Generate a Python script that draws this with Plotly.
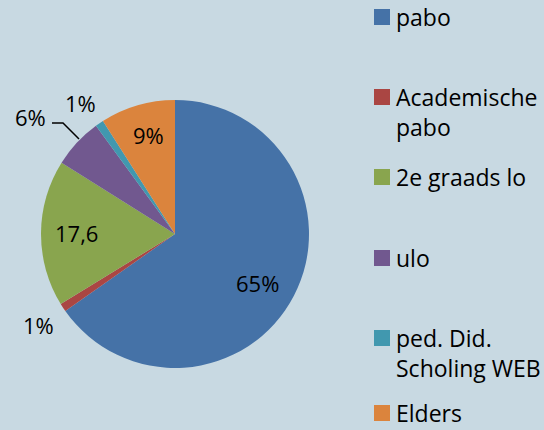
import plotly.graph_objects as go

# ---- data ----
categories = ["pabo", "Academische pabo", "2e graads lo", "ulo", "ped. Did. Scholing WEB", "Elders"]
legend_labels = ["pabo", "Academische<br>pabo", "2e graads lo", "ulo", "ped. Did.<br>Scholing WEB", "Elders"]
values = [65, 1, 17.6, 6, 1, 9]
data_labels = ["65%", "1%", "17,6", "6%", "1%", "9%"]
colors = ["#4572A7", "#AA4643", "#89A54E", "#71588F", "#4198AF", "#DB843D"]

W, H = 544, 430
BG = "#C8D9E2"
FONT = "Open Sans"
FS_LAB = 22
FS_LEG = 23

def px(x):
    return x / W

def py(y):
    return 1 - y / H

# pie geometry (pixels)
cx, cy, r = 175, 234, 134

fig = go.Figure()
fig.add_trace(go.Pie(
    labels=categories,
    values=values,
    sort=False,
    direction="clockwise",
    rotation=0,
    marker=dict(colors=colors, line=dict(width=0)),
    textinfo="none",
    domain=dict(x=[px(cx - r), px(cx + r)], y=[py(cy + r), py(cy - r)]),
    showlegend=False,
    hoverinfo="label+percent",
))

annotations = []
shapes = []

# data labels (label positions in pixels, Excel-style placement)
label_pos = [(257, 283), (38, 325), (76, 233), (30, 117), (80, 103), (148, 135)]
for txt, (x, y) in zip(data_labels, label_pos):
    annotations.append(dict(x=px(x), y=py(y), xref="paper", yref="paper",
                            text=txt, showarrow=False,
                            xanchor="center", yanchor="middle",
                            font=dict(family=FONT, size=FS_LAB, color="black")))

# leader line for the 6% label
shapes.append(dict(type="path", xref="paper", yref="paper",
                   path=f"M {px(52)},{py(123)} L {px(63)},{py(123)} L {px(79)},{py(139)}",
                   line=dict(color="black", width=1.5)))

# manual legend (Excel-like, marker aligned with first text line)
leg_x_marker, leg_msize, leg_x_text = 374, 16, 394
leg_y = [17, 97, 177, 258, 338, 413]
line_h = 30
for lab, col, y in zip(legend_labels, colors, leg_y):
    shapes.append(dict(type="rect", xref="paper", yref="paper",
                       x0=px(leg_x_marker), x1=px(leg_x_marker + leg_msize),
                       y0=py(y + leg_msize / 2), y1=py(y - leg_msize / 2),
                       fillcolor=col, line=dict(width=0)))
    nlines = lab.count("<br>") + 1
    annotations.append(dict(x=px(leg_x_text), y=py(y), xref="paper", yref="paper",
                            text=lab, showarrow=False, align="left",
                            xanchor="left", yanchor="middle",
                            yshift=-(nlines - 1) * line_h / 2,
                            font=dict(family=FONT, size=FS_LEG, color="black")))

fig.update_layout(
    width=W, height=H,
    margin=dict(l=0, r=0, t=0, b=0),
    paper_bgcolor=BG, plot_bgcolor=BG,
    annotations=annotations, shapes=shapes,
    showlegend=False,
)

fig.write_html("out.html",
               config={"displayModeBar": False},
               post_script="document.body.style.margin='0';document.body.style.overflow='hidden';")
